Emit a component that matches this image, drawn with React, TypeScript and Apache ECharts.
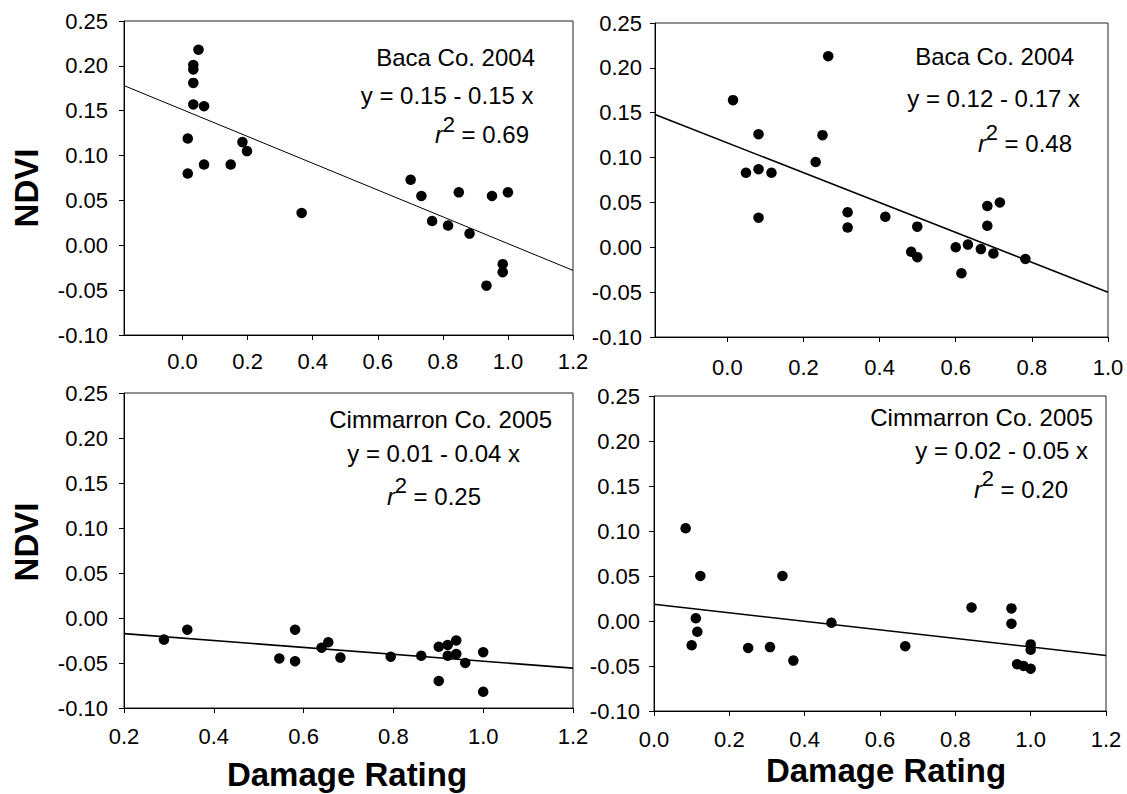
import React, { useEffect, useRef } from "react";
import * as echarts from "echarts";

const FONT = "Arial, 'Liberation Sans', Helvetica, sans-serif";

// ---- Data ----
const yTicks = [-0.1, -0.05, 0, 0.05, 0.1, 0.15, 0.2, 0.25];
const xTicks1 = [0, 0.2, 0.4, 0.6, 0.8, 1.0, 1.2];
const xTicks2 = [0, 0.2, 0.4, 0.6, 0.8, 1.0];
const xTicks3 = [0.2, 0.4, 0.6, 0.8, 1.0, 1.2];
const xTicks4 = [0, 0.2, 0.4, 0.6, 0.8, 1.0, 1.2];

const p1X = [0.049, 0.033, 0.033, 0.033, 0.033, 0.066, 0.016, 0.016, 0.066, 0.148, 0.184, 0.198, 0.366, 0.701, 0.734, 0.767, 0.816, 0.849, 0.882, 0.951, 1.0, 0.984, 0.984, 0.934];
const p1Y = [0.218, 0.201, 0.196, 0.181, 0.157, 0.155, 0.119, 0.080, 0.090, 0.090, 0.115, 0.105, 0.036, 0.073, 0.055, 0.027, 0.022, 0.059, 0.013, 0.055, 0.059, -0.021, -0.030, -0.045];

const p2X = [0.015, 0.265, 0.082, 0.250, 0.232, 0.049, 0.082, 0.116, 0.082, 0.316, 0.316, 0.415, 0.499, 0.483, 0.499, 0.600, 0.632, 0.666, 0.699, 0.615, 0.683, 0.716, 0.683, 0.783];
const p2Y = [0.164, 0.213, 0.126, 0.125, 0.095, 0.083, 0.087, 0.083, 0.033, 0.039, 0.022, 0.034, 0.023, -0.005, -0.011, 0.000, 0.003, -0.002, -0.007, -0.029, 0.046, 0.050, 0.024, -0.013];

const p3X = [0.289, 0.341, 0.546, 0.581, 0.581, 0.640, 0.655, 0.682, 0.794, 0.862, 0.901, 0.921, 0.921, 0.940, 0.940, 0.960, 1.0, 0.901, 1.0];
const p3Y = [-0.024, -0.013, -0.045, -0.013, -0.048, -0.033, -0.027, -0.044, -0.043, -0.042, -0.032, -0.030, -0.042, -0.025, -0.040, -0.050, -0.038, -0.070, -0.082];

const p4X = [0.084, 0.123, 0.111, 0.115, 0.100, 0.250, 0.308, 0.341, 0.370, 0.471, 0.667, 0.843, 0.949, 0.949, 1.0, 1.0, 0.964, 0.981, 1.0];
const p4Y = [0.103, 0.050, 0.003, -0.012, -0.027, -0.030, -0.029, 0.050, -0.044, -0.002, -0.028, 0.015, 0.014, -0.003, -0.026, -0.032, -0.048, -0.050, -0.053];

// regression line endpoints [x, y]
const fit1 = [[-0.18, 0.178], [1.2, -0.028]];
const fit2 = [[-0.19, 0.148], [1.0, -0.05]];
const fit3 = [[0.2, -0.0174], [1.2, -0.0557]];
const fit4 = [[0.0, 0.0186], [1.2, -0.0383]];

const titles = ["Baca Co. 2004", "Baca Co. 2004", "Cimmarron Co. 2005", "Cimmarron Co. 2005"];
const equations = ["y = 0.15 - 0.15 x", "y = 0.12 - 0.17 x", "y = 0.01 - 0.04 x", "y = 0.02 - 0.05 x"];
const r2Values = ["= 0.69", "= 0.48", "= 0.25", "= 0.20"];

// ---- Layout ----
const panels = [
  { grid: { left: 124, top: 21, width: 449, height: 314 }, xMin: -0.18, xMax: 1.2, xTicks: xTicks1, xs: p1X, ys: p1Y, fit: fit1, lw: 1, xMargin: 15, yMargin: 16,
    title: [535, 57], eq: [533.5, 95], r2: [529, 134.5] },
  { grid: { left: 655, top: 23, width: 453, height: 314 }, xMin: -0.19, xMax: 1.0, xTicks: xTicks2, xs: p2X, ys: p2Y, fit: fit2, lw: 1.6, xMargin: 19, yMargin: 13,
    title: [1074, 56], eq: [1080, 98], r2: [1072, 143] },
  { grid: { left: 124, top: 393, width: 449, height: 315 }, xMin: 0.2, xMax: 1.2, xTicks: xTicks3, xs: p3X, ys: p3Y, fit: fit3, lw: 1.6, xMargin: 17, yMargin: 16,
    title: [552, 419], eq: [520, 453], r2: [481, 496] },
  { grid: { left: 654, top: 396, width: 452, height: 315 }, xMin: 0.0, xMax: 1.2, xTicks: xTicks4, xs: p4X, ys: p4Y, fit: fit4, lw: 1.6, xMargin: 17, yMargin: 14,
    title: [1093, 417], eq: [1088, 450], r2: [1068, 489] },
];

function txt(text: string, x: number, y: number, size: number, align: string, extra: any = {}) {
  return {
    type: "text",
    x,
    y,
    z: 100,
    silent: true,
    ...extra,
    style: {
      text,
      fill: "#000",
      fontSize: size,
      fontFamily: FONT,
      align,
      verticalAlign: "middle",
      ...(extra.style || {}),
    },
  };
}

export default function App() {
  const ref = useRef<HTMLDivElement>(null);
  useEffect(() => {
    if (!ref.current) return;
    const chart = echarts.init(ref.current, undefined, { renderer: "svg" });

    const grids: any[] = [];
    const xAxes: any[] = [];
    const yAxes: any[] = [];
    const series: any[] = [];
    const graphic: any[] = [];

    panels.forEach((p, i) => {
      grids.push({ ...p.grid, show: true, borderColor: "#222", borderWidth: 1, containLabel: false });
      xAxes.push({
        type: "value",
        gridIndex: i,
        min: p.xMin,
        max: p.xMax,
        axisLine: { show: true, onZero: false, lineStyle: { color: "#000", width: 1 } },
        axisTick: { show: true, inside: false, length: 5, customValues: p.xTicks, lineStyle: { color: "#000" } },
        axisLabel: {
          customValues: p.xTicks,
          formatter: (v: number) => v.toFixed(1),
          fontSize: 22,
          color: "#000",
          fontFamily: FONT,
          margin: p.xMargin,
        },
        splitLine: { show: false },
      });
      yAxes.push({
        type: "value",
        gridIndex: i,
        min: -0.1,
        max: 0.25,
        axisLine: { show: true, onZero: false, lineStyle: { color: "#000", width: 1 } },
        axisTick: { show: true, inside: false, length: 5, customValues: yTicks, lineStyle: { color: "#000" } },
        axisLabel: {
          customValues: yTicks,
          formatter: (v: number) => v.toFixed(2),
          fontSize: 22,
          color: "#000",
          fontFamily: FONT,
          margin: p.yMargin,
        },
        splitLine: { show: false },
      });
      series.push({
        type: "line",
        xAxisIndex: i,
        yAxisIndex: i,
        data: p.fit,
        symbol: "none",
        clip: true,
        lineStyle: { color: "#000", width: p.lw },
        z: 2,
      });
      series.push({
        type: "scatter",
        xAxisIndex: i,
        yAxisIndex: i,
        data: p.xs.map((x, k) => [x, p.ys[k]]),
        symbol: "circle",
        symbolSize: 10.5,
        itemStyle: { color: "#000", opacity: 1 },
        z: 3,
      });

      graphic.push(txt(titles[i], p.title[0], p.title[1], 24, "right"));
      graphic.push(txt(equations[i], p.eq[0], p.eq[1], 24, "right"));
      const rx = p.r2[0];
      const ry = p.r2[1];
      graphic.push(txt(r2Values[i], rx, ry, 24, "right"));
      graphic.push(txt("2", rx - 74, ry - 10.5, 22, "right"));
      graphic.push(txt("r", rx - 86, ry, 24, "right", { style: { fontStyle: "italic" } }));
    });

    graphic.push(txt("NDVI", 26, 188, 33, "center", { rotation: Math.PI / 2, style: { fontWeight: "bold" } }));
    graphic.push(txt("NDVI", 26, 542, 33, "center", { rotation: Math.PI / 2, style: { fontWeight: "bold" } }));
    graphic.push(txt("Damage Rating", 347, 774, 33, "center", { style: { fontWeight: "bold" } }));
    graphic.push(txt("Damage Rating", 886, 770, 33, "center", { style: { fontWeight: "bold" } }));

    chart.setOption({
      animation: false,
      backgroundColor: "#fff",
      grid: grids,
      xAxis: xAxes,
      yAxis: yAxes,
      series,
      graphic,
    });
    return () => chart.dispose();
  }, []);

  return (
    <div
      ref={ref}
      style={{ position: "fixed", left: 0, top: 0, width: 1127, height: 794, background: "#fff" }}
    />
  );
}
